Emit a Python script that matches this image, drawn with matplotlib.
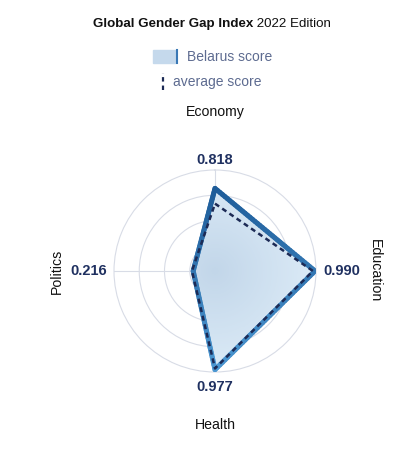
import numpy as np
import matplotlib
matplotlib.use("Agg")
import matplotlib.pyplot as plt
from matplotlib.patches import Rectangle
from matplotlib.lines import Line2D
from matplotlib.collections import LineCollection

plt.rcParams['font.family'] = ['Liberation Sans', 'DejaVu Sans']

categories = ['Economy', 'Education', 'Health', 'Politics']
belarus_score = [0.818, 0.990, 0.977, 0.216]
average_score = [0.667, 0.970, 0.965, 0.228]
value_labels = ['0.818', '0.990', '0.977', '0.216']

W, H = 411, 450
fig = plt.figure(figsize=(W / 100, H / 100), dpi=100)

# polar axes centred at (215, 271) px, outer ring radius ~101 px
cx, cy, rad = 215, 271, 101
ax = fig.add_axes([(cx - rad) / W, (H - cy - rad) / H, 2 * rad / W, 2 * rad / H],
                  projection='polar')
ax.set_theta_zero_location('N')
ax.set_theta_direction(-1)

angles = np.linspace(0, 2 * np.pi, len(categories), endpoint=False)
ang_closed = np.concatenate([angles, angles[:1]])
bel_closed = belarus_score + belarus_score[:1]
avg_closed = average_score + average_score[:1]

ax.set_ylim(0, 1.0)
ax.set_yticks([0.25, 0.5, 0.75])
ax.set_yticklabels([])
ax.set_xticks(angles)
ax.set_xticklabels([])
ax.grid(color='#d8dce6', linewidth=0.8)
ax.spines['polar'].set_color('#d8dce6')
ax.spines['polar'].set_linewidth(0.8)
ax.set_facecolor('none')

# filled area with a soft radial gradient
poly = ax.fill(ang_closed, bel_closed, color='#d6e6f4', zorder=2)[0]
tg, rg = np.meshgrid(np.linspace(0, 2 * np.pi, 200), np.linspace(0, 1.05, 60))
cmap = matplotlib.colors.LinearSegmentedColormap.from_list('g', ['#c2d6e9', '#dcebf7'])
grad = ax.pcolormesh(tg, rg, rg[:-1, :-1], cmap=cmap, shading='flat', zorder=2.1)
grad.set_clip_path(poly)

# outline with a top-to-bottom colour gradient (dark at top, lighter below)
xs = np.array(bel_closed) * np.sin(ang_closed)
ys = np.array(bel_closed) * np.cos(ang_closed)
pts = []
for i in range(len(categories)):
    t = np.linspace(0, 1, 40, endpoint=False)
    pts.append(np.column_stack([xs[i] + (xs[i + 1] - xs[i]) * t,
                                ys[i] + (ys[i + 1] - ys[i]) * t]))
pts.append([[xs[0], ys[0]]])
pts = np.vstack(pts)
th = np.mod(np.arctan2(pts[:, 0], pts[:, 1]), 2 * np.pi)
rr = np.hypot(pts[:, 0], pts[:, 1])
polar_pts = np.column_stack([th, rr])
segs = np.stack([polar_pts[:-1], polar_pts[1:]], axis=1)
ymid = (pts[:-1, 1] + pts[1:, 1]) / 2
line_cmap = matplotlib.colors.LinearSegmentedColormap.from_list('l', ['#4d98d2', '#1d5b98'])
lc = LineCollection(segs, cmap=line_cmap, norm=plt.Normalize(-1, 0.85),
                    linewidths=3.6, capstyle='round', zorder=3)
lc.set_array(ymid)
ax.add_collection(lc)

ax.plot(ang_closed, avg_closed, color='#1c2a55', linewidth=1.8,
        linestyle=(0, (2.0, 1.5)), zorder=4)

# value labels
val_pos = [(1.10, 'center', 'center'), (1.07, 'left', 'center'),
           (1.15, 'center', 'center'), (1.07, 'right', 'center')]
for a, lab, (r, ha, va) in zip(angles, value_labels, val_pos):
    ax.text(a, r, lab, ha=ha, va=va, fontsize=10.5, fontweight='bold',
            color='#1f3060')

# category labels
cat_pos = [(1.57, 0), (1.58, -90), (1.52, 0), (1.57, 90)]
for a, lab, (r, rot) in zip(angles, categories, cat_pos):
    ax.text(a, r, lab, ha='center', va='center', fontsize=10.2,
            rotation=rot, color='#111111')

# title: bold part + regular part, centred around x~212 px
ty = 1 - 24 / H
t1 = fig.text(0, ty, 'Global Gender Gap Index', ha='left', va='center',
              fontsize=9.6, fontweight='bold', color='#111111')
t2 = fig.text(0, ty, ' 2022 Edition', ha='left', va='center',
              fontsize=9.6, color='#111111')
fig.canvas.draw()
w1 = t1.get_window_extent().width
w2 = t2.get_window_extent().width
left = 212 - (w1 + w2) / 2
t1.set_x(left / W)
t2.set_x((left + w1) / W)

# legend
fig.patches.append(Rectangle((153 / W, 1 - 63 / H), 22 / W, 13 / H,
                             transform=fig.transFigure, color='#c5d9ec'))
fig.lines.append(Line2D([177 / W, 177 / W], [1 - 63 / H, 1 - 50 / H],
                        transform=fig.transFigure, color='#3a78b5', linewidth=1.5))
fig.text(187 / W, 1 - 57 / H, 'Belarus score', ha='left', va='center',
         fontsize=10, color='#5d6b90')
fig.lines.append(Line2D([163 / W, 163 / W], [1 - 90 / H, 1 - 73 / H],
                        transform=fig.transFigure, color='#1c2a55', linewidth=1.6,
                        linestyle=(0, (2, 1.8))))
fig.text(173 / W, 1 - 82 / H, 'average score', ha='left', va='center',
         fontsize=10, color='#5d6b90')

fig.savefig('out.png', dpi=100)
